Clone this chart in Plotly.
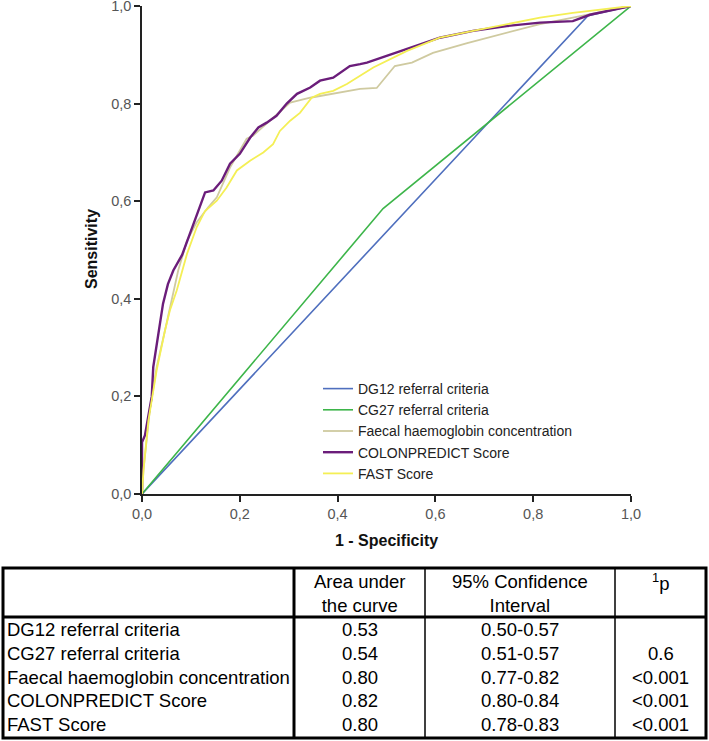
import plotly.graph_objects as go

W, H = 709, 741

# ---------------- data ----------------
series_names = ["DG12 referral criteria", "CG27 referral criteria",
                "Faecal haemoglobin concentration", "COLONPREDICT Score", "FAST Score"]
series_colors = ["#4f6fbe", "#3db54a", "#cfcaa0", "#6b1d7a", "#f4ef55"]
series_widths = [1.6, 1.6, 1.8, 2.4, 1.8]

dg12_fpr = [0.0, 0.912, 1.0]
dg12_tpr = [0.0, 0.980, 1.0]

cg27_fpr = [0.0, 0.493, 1.0]
cg27_tpr = [0.0, 0.585, 1.0]

fhb_fpr = [0.0, 0.003, 0.016, 0.030, 0.047, 0.064, 0.074, 0.092, 0.112, 0.135, 0.153,
           0.180, 0.200, 0.214, 0.227, 0.255, 0.282, 0.303, 0.344, 0.391, 0.446, 0.480,
           0.517, 0.552, 0.595, 0.665, 0.746, 0.814, 0.881, 0.951, 1.0]
fhb_tpr = [0.0, 0.049, 0.172, 0.260, 0.335, 0.417, 0.458, 0.519, 0.557, 0.587, 0.608,
           0.669, 0.703, 0.728, 0.734, 0.759, 0.785, 0.802, 0.812, 0.820, 0.830, 0.832,
           0.877, 0.884, 0.904, 0.924, 0.945, 0.963, 0.976, 0.990, 1.0]

cp_fpr = [0.0, 0.0, 0.006, 0.020, 0.023, 0.035, 0.043, 0.053, 0.064, 0.082, 0.098,
          0.115, 0.129, 0.146, 0.163, 0.180, 0.200, 0.221, 0.238, 0.255, 0.275, 0.296,
          0.317, 0.344, 0.364, 0.391, 0.411, 0.425, 0.446, 0.460, 0.542, 0.609, 0.677,
          0.746, 0.814, 0.881, 0.916, 0.951, 1.0]
cp_tpr = [0.0, 0.106, 0.120, 0.200, 0.260, 0.342, 0.390, 0.430, 0.458, 0.490, 0.533,
          0.580, 0.618, 0.622, 0.642, 0.677, 0.697, 0.730, 0.751, 0.761, 0.775, 0.800,
          0.820, 0.833, 0.847, 0.853, 0.867, 0.877, 0.881, 0.884, 0.912, 0.935, 0.949,
          0.959, 0.966, 0.969, 0.982, 0.990, 1.0]

fast_fpr = [0.0, 0.003, 0.013, 0.030, 0.047, 0.057, 0.071, 0.081, 0.092, 0.112, 0.129,
            0.153, 0.173, 0.194, 0.221, 0.248, 0.268, 0.282, 0.303, 0.323, 0.337, 0.347,
            0.364, 0.391, 0.419, 0.446, 0.473, 0.542, 0.609, 0.677, 0.746, 0.814, 0.881,
            0.951, 1.0]
fast_tpr = [0.0, 0.049, 0.150, 0.254, 0.335, 0.376, 0.417, 0.452, 0.492, 0.547, 0.580,
            0.601, 0.628, 0.663, 0.683, 0.700, 0.717, 0.744, 0.765, 0.781, 0.800, 0.812,
            0.820, 0.826, 0.840, 0.857, 0.874, 0.908, 0.935, 0.949, 0.963, 0.976, 0.986,
            0.994, 1.0]

series_x = [dg12_fpr, cg27_fpr, fhb_fpr, cp_fpr, fast_fpr]
series_y = [dg12_tpr, cg27_tpr, fhb_tpr, cp_tpr, fast_tpr]

tick_vals = [0.0, 0.2, 0.4, 0.6, 0.8, 1.0]
tick_text = ["0,0", "0,2", "0,4", "0,6", "0,8", "1,0"]

x_title = "1 - Specificity"
y_title = "Sensitivity"

table_header = ["", "Area under<br>the curve", "95% Confidence<br>Interval", "<sup>1</sup>p"]
table_rows = series_names
table_auc = ["0.53", "0.54", "0.80", "0.82", "0.80"]
table_ci = ["0.50-0.57", "0.51-0.57", "0.77-0.82", "0.80-0.84", "0.78-0.83"]
table_p = ["", "0.6", "<0.001", "<0.001", "<0.001"]

# ---------------- helpers ----------------
def px(x):
    return x / W

def py(y):
    return 1 - y / H

FONT = "Liberation Sans, Arial, sans-serif"

fig = go.Figure()
for name, xs, ys, c, w in zip(series_names, series_x, series_y, series_colors, series_widths):
    fig.add_trace(go.Scatter(x=xs, y=ys, mode="lines", name=name,
                             line=dict(color=c, width=w), hoverinfo="skip"))

axis_common = dict(range=[0, 1], tickvals=tick_vals, ticktext=tick_text,
                   showline=True, linecolor="#222", linewidth=1.6,
                   ticks="outside", ticklen=6, tickwidth=1.6, tickcolor="#222",
                   showgrid=False, zeroline=False, mirror=False, automargin=False,
                   ticklabeloverflow="allow",
                   tickfont=dict(family=FONT, size=14.5, color="#555"))

fig.update_layout(
    width=W, height=H, autosize=False,
    margin=dict(l=0, r=0, t=0, b=0, pad=0),
    paper_bgcolor="white", plot_bgcolor="white",
    xaxis=dict(domain=[px(142), px(631)], **axis_common),
    yaxis=dict(domain=[py(494), py(6)], **axis_common),
    showlegend=True,
    legend=dict(x=px(318), y=py(373), xanchor="left", yanchor="top",
                bgcolor="rgba(0,0,0,0)", borderwidth=0,
                font=dict(family=FONT, size=14, color="#222"),
                tracegroupgap=0),
)

annotations = [
    dict(x=px(386), y=py(540), xref="paper", yref="paper", text="<b>" + x_title + "</b>",
         xanchor="center", yanchor="middle",
         showarrow=False, font=dict(family=FONT, size=16, color="#111")),
    dict(x=px(92), y=py(249), xref="paper", yref="paper", text="<b>" + y_title + "</b>",
         xanchor="center", yanchor="middle",
         showarrow=False, textangle=-90, font=dict(family=FONT, size=16, color="#111")),
]

# ---------------- table ----------------
t_left, t_right, t_top, t_head, t_bot = 3, 706, 568, 617, 738
col_edges = [294, 425, 615]
col_centers = [(294 + 425) / 2, (425 + 615) / 2, (615 + 706) / 2]
header_y = [593, 593, 582]
row_y = [629, 653, 677, 700, 724]

shapes = []
shapes.append(dict(type="rect", xref="paper", yref="paper", x0=px(t_left), x1=px(t_right),
                   y0=py(t_bot), y1=py(t_top), line=dict(color="black", width=3)))
shapes.append(dict(type="line", xref="paper", yref="paper", x0=px(t_left), x1=px(t_right),
                   y0=py(t_head), y1=py(t_head), line=dict(color="black", width=3)))
for i, xe in enumerate(col_edges):
    shapes.append(dict(type="line", xref="paper", yref="paper", x0=px(xe), x1=px(xe),
                       y0=py(t_bot), y1=py(t_top),
                       line=dict(color="black", width=3 if i == 0 else 1.5)))

TF = dict(family=FONT, size=18.5, color="black")
for j, htxt in enumerate(table_header[1:]):
    annotations.append(dict(x=px(col_centers[j]), y=py(header_y[j]), xref="paper", yref="paper",
                            xanchor="center", yanchor="middle",
                            text=htxt, showarrow=False, font=TF, align="center"))
for i, lab in enumerate(table_rows):
    annotations.append(dict(x=px(5), y=py(row_y[i]), xref="paper", yref="paper", text=lab,
                            showarrow=False, xanchor="left", yanchor="middle", font=TF))
    for j, col in enumerate([table_auc, table_ci, table_p]):
        if col[i]:
            annotations.append(dict(x=px(col_centers[j]), y=py(row_y[i]), xref="paper",
                                    yref="paper", text=col[i].replace("<", "&lt;"),
                                    xanchor="center", yanchor="middle",
                                    showarrow=False, font=TF))

fig.update_layout(shapes=shapes, annotations=annotations)
fig.write_html("out.html", config={"displayModeBar": False},
               post_script="document.body.style.margin='0';document.body.style.overflow='hidden';")
